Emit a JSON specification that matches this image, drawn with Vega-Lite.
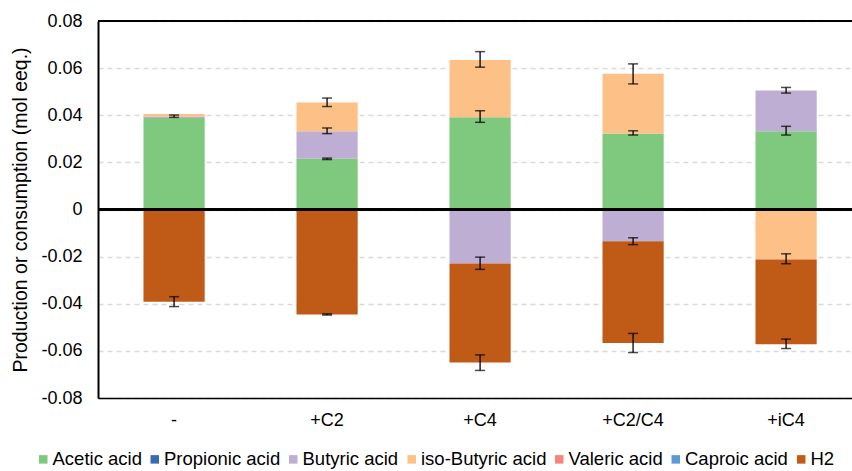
{
  "$schema": "https://vega.github.io/schema/vega-lite/v6.json",
  "width": 754,
  "height": 377,
  "autosize": {"type": "none"},
  "padding": {"left": 98, "top": 21, "right": 0, "bottom": 73},
  "background": "white",
  "config": {
    "view": {"stroke": null},
    "font": "Liberation Sans",
    "axis": {"labelColor": "#000000", "titleColor": "#000000", "labelFont": "Liberation Sans", "titleFont": "Liberation Sans"},
    "legend": {"labelFont": "Liberation Sans", "labelColor": "#000000"}
  },
  "datasets": {
    "bars": [
      {"cat": "-", "series": "Acetic acid", "k": 1, "value": 0.0388},
      {"cat": "-", "series": "Butyric acid", "k": 3, "value": 0.0007},
      {"cat": "-", "series": "iso-Butyric acid", "k": 4, "value": 0.001},
      {"cat": "-", "series": "H2", "k": 7, "value": -0.0391},
      {"cat": "+C2", "series": "Acetic acid", "k": 1, "value": 0.0215},
      {"cat": "+C2", "series": "Butyric acid", "k": 3, "value": 0.0117},
      {"cat": "+C2", "series": "iso-Butyric acid", "k": 4, "value": 0.0122},
      {"cat": "+C2", "series": "H2", "k": 7, "value": -0.0446},
      {"cat": "+C4", "series": "Acetic acid", "k": 1, "value": 0.0392},
      {"cat": "+C4", "series": "iso-Butyric acid", "k": 4, "value": 0.0243},
      {"cat": "+C4", "series": "Butyric acid", "k": 3, "value": -0.0229},
      {"cat": "+C4", "series": "H2", "k": 7, "value": -0.042},
      {"cat": "+C2/C4", "series": "Acetic acid", "k": 1, "value": 0.0323},
      {"cat": "+C2/C4", "series": "iso-Butyric acid", "k": 4, "value": 0.0253},
      {"cat": "+C2/C4", "series": "Butyric acid", "k": 3, "value": -0.0135},
      {"cat": "+C2/C4", "series": "H2", "k": 7, "value": -0.0432},
      {"cat": "+iC4", "series": "Acetic acid", "k": 1, "value": 0.0332},
      {"cat": "+iC4", "series": "Butyric acid", "k": 3, "value": 0.0173},
      {"cat": "+iC4", "series": "iso-Butyric acid", "k": 4, "value": -0.0212},
      {"cat": "+iC4", "series": "H2", "k": 7, "value": -0.036}
    ],
    "errs": [
      {"cat": "-", "lo": 0.0391, "hi": 0.0401},
      {"cat": "-", "lo": -0.0412, "hi": -0.0370},
      {"cat": "+C2", "lo": 0.0212, "hi": 0.0218},
      {"cat": "+C2", "lo": 0.0322, "hi": 0.0346},
      {"cat": "+C2", "lo": 0.0437, "hi": 0.0473},
      {"cat": "+C2", "lo": -0.0448, "hi": -0.0443},
      {"cat": "+C4", "lo": 0.0370, "hi": 0.0419},
      {"cat": "+C4", "lo": 0.0604, "hi": 0.0670},
      {"cat": "+C4", "lo": -0.0254, "hi": -0.0202},
      {"cat": "+C4", "lo": -0.0683, "hi": -0.0617},
      {"cat": "+C2/C4", "lo": 0.0316, "hi": 0.0334},
      {"cat": "+C2/C4", "lo": 0.0533, "hi": 0.0618},
      {"cat": "+C2/C4", "lo": -0.0149, "hi": -0.0120},
      {"cat": "+C2/C4", "lo": -0.0607, "hi": -0.0526},
      {"cat": "+iC4", "lo": 0.0316, "hi": 0.0353},
      {"cat": "+iC4", "lo": 0.0494, "hi": 0.0518},
      {"cat": "+iC4", "lo": -0.0230, "hi": -0.0188},
      {"cat": "+iC4", "lo": -0.0590, "hi": -0.0550}
    ]
  },
  "layer": [
    {
      "data": {"name": "bars"},
      "mark": {"type": "bar"},
      "encoding": {
        "x": {
          "field": "cat", "type": "nominal",
          "sort": ["-", "+C2", "+C4", "+C2/C4", "+iC4"],
          "scale": {"paddingInner": 0.6, "paddingOuter": 0.264, "align": 0.563},
          "axis": {"title": null, "labelAngle": 0, "labelFontSize": 18, "labelPadding": 13, "ticks": false, "domain": true, "domainColor": "#000000", "domainWidth": 1.5, "grid": false}
        },
        "y": {
          "field": "value", "type": "quantitative", "stack": "zero",
          "scale": {"domain": [-0.08, 0.08], "nice": false, "zero": false},
          "axis": {
            "title": "Production or consumption (mol eeq.)",
            "titleFontSize": 19.5, "titleFontWeight": "normal", "titlePadding": 10,
            "values": [-0.08, -0.06, -0.04, -0.02, 0, 0.02, 0.04, 0.06, 0.08],
            "labelExpr": "datum.value == 0 ? '0' : (datum.value < 0 ? '-' + format(-datum.value, '.2f') : format(datum.value, '.2f'))",
            "labelFontSize": 18, "labelPadding": 16, "ticks": false,
            "domain": true, "domainColor": "#000000", "domainWidth": 2,
            "grid": true, "gridColor": "#d9d9d9", "gridDash": [5, 4], "gridWidth": 1.3
          }
        },
        "color": {
          "field": "series", "type": "nominal",
          "scale": {
            "domain": ["Acetic acid", "Propionic acid", "Butyric acid", "iso-Butyric acid", "Valeric acid", "Caproic acid", "H2"],
            "range": ["#7FC97F", "#386CB0", "#BEAED4", "#FDC086", "#F8837B", "#5B9BD5", "#BF5B17"]
          },
          "legend": {
            "title": null, "orient": "none", "legendX": -64, "legendY": 429,
            "direction": "horizontal", "columns": 7, "padding": 0,
            "symbolType": "square", "symbolSize": 72, "symbolStrokeWidth": 0, "symbolOpacity": 1,
            "labelFontSize": 18.5, "labelOffset": 0, "columnPadding": 3.5
          }
        },
        "order": {"field": "k", "type": "quantitative"}
      }
    },
    {
      "data": {"values": [{}]},
      "mark": {"type": "rule", "color": "#000000", "strokeWidth": 3},
      "encoding": {"y": {"datum": 0, "type": "quantitative"}}
    },
    {
      "data": {"values": [{}]},
      "mark": {"type": "rule", "color": "#000000", "strokeWidth": 2},
      "encoding": {"y": {"datum": 0.08, "type": "quantitative"}}
    },
    {
      "data": {"name": "errs"},
      "mark": {"type": "rule", "color": "#000000", "strokeWidth": 1.3},
      "encoding": {
        "x": {"field": "cat", "type": "nominal", "sort": ["-", "+C2", "+C4", "+C2/C4", "+iC4"]},
        "y": {"field": "lo", "type": "quantitative"},
        "y2": {"field": "hi"}
      }
    },
    {
      "data": {"name": "errs"},
      "mark": {"type": "tick", "color": "#000000", "size": 10, "thickness": 1.5, "orient": "horizontal"},
      "encoding": {
        "x": {"field": "cat", "type": "nominal", "sort": ["-", "+C2", "+C4", "+C2/C4", "+iC4"]},
        "y": {"field": "lo", "type": "quantitative"}
      }
    },
    {
      "data": {"name": "errs"},
      "mark": {"type": "tick", "color": "#000000", "size": 10, "thickness": 1.5, "orient": "horizontal"},
      "encoding": {
        "x": {"field": "cat", "type": "nominal", "sort": ["-", "+C2", "+C4", "+C2/C4", "+iC4"]},
        "y": {"field": "hi", "type": "quantitative"}
      }
    }
  ]
}
